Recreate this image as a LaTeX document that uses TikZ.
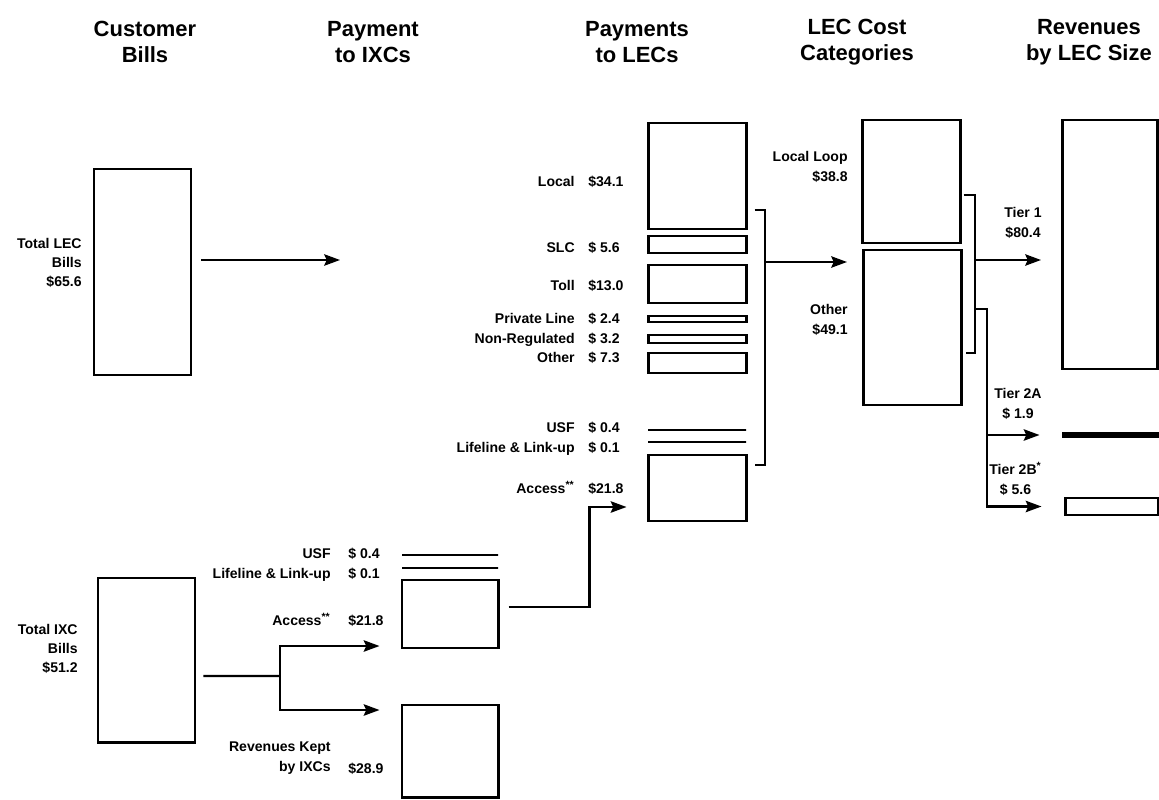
\documentclass[tikz,border=0pt]{standalone}
\usepackage{fontspec}
\setmainfont{Liberation Sans}
\usetikzlibrary{arrows.meta,positioning,calc}
\tikzset{
  box/.style={draw, line width=1.7pt, minimum width=1.94cm, inner sep=0pt},
  bar/.style={draw, line width=1.6pt, minimum width=1.94cm, minimum height=0pt, inner sep=0pt},
  arr/.style={-{Stealth[length=9pt,width=6.5pt,inset=1.5pt]}, line width=1.3pt},
  link/.style={line width=1.4pt},
  lab/.style={font=\fontsize{8}{11}\selectfont\bfseries, inner sep=0pt},
  amt/.style={lab, anchor=base west},
  head/.style={font=\fontsize{12.5}{14.5}\selectfont\bfseries, align=center},
}

\begin{document}
\begin{tikzpicture}
  \useasboundingbox (0,0) rectangle (23.18,15.98);
  % column heads
  \node[head] (hbills) at (2.9,15.14) {Customer\\Bills};
  \node[head] (hixc) at (7.46,15.14) {Payment\\to IXCs};
  \node[head] (hlec) at (12.74,15.14) {Payments\\to LECs};
  \node[head] (hcost) at (17.14,15.14) {LEC Cost\\Categories};
  \node[head, anchor=east] (hsize) at (23.16,15.14) {Revenues\\by LEC Size};

  % customer bills
  \node[box, minimum height=4.12cm] (lecbill) at (2.85,10.54) {};
  \node[box, minimum height=3.28cm] (ixcbill) at (2.93,2.78) {};
  \node[lab, align=right, anchor=east] (leclab) at (1.64,10.72) {Total LEC\\Bills\\\$65.6};
  \node[lab, align=right, anchor=east] (ixclab) at (1.56,3.0) {Total IXC\\Bills\\\$51.2};

  % payment to IXCs
  \node[bar, minimum width=1.92cm] (iusf) at (9.0,4.88) {};
  \node[bar, minimum width=1.92cm] (ilife) at (9.0,4.62) {};
  \node[box, minimum width=1.92cm, minimum height=1.36cm] (iacc) at (9.0,3.70) {};
  \node[box, minimum width=1.92cm, minimum height=1.84cm] (ikept) at (9.0,0.96) {};
  \node[amt] (aiusf) at (6.96,4.82) {\$ 0.4};
  \node[lab, base left=0.34cm of aiusf] (tiusf) {USF};
  \node[amt] (ailife) at (6.96,4.42) {\$ 0.1};
  \node[lab, base left=0.34cm of ailife] (tilife) {Lifeline \& Link-up};
  \node[amt] (aiacc) at (6.96,3.48) {\$21.8};
  \node[lab, base left=0.34cm of aiacc] (tiacc) {Access\textsuperscript{**}};
  \node[amt] (aikept) at (6.96,0.52) {\$28.9};
  \node[lab, align=right, anchor=east] (tikept) at (6.62,0.82) {Revenues Kept\\by IXCs};

  % payments to LECs
  \node[box, minimum width=1.96cm, minimum height=2.12cm] (lloc) at (13.94,12.46) {};
  \node[box, minimum width=1.96cm, minimum height=0.34cm] (lslc) at (13.94,11.09) {};
  \node[box, minimum width=1.96cm, minimum height=0.76cm] (ltoll) at (13.94,10.30) {};
  \node[box, minimum width=1.96cm, minimum height=0.12cm] (lpriv) at (13.94,9.60) {};
  \node[box, minimum width=1.96cm, minimum height=0.16cm] (lnonreg) at (13.94,9.20) {};
  \node[box, minimum width=1.96cm, minimum height=0.40cm] (lother) at (13.94,8.72) {};
  \node[bar, minimum width=1.96cm] (lusf) at (13.94,7.38) {};
  \node[bar, minimum width=1.96cm] (llife) at (13.94,7.14) {};
  \node[box, minimum width=1.96cm, minimum height=1.32cm] (lacc) at (13.94,6.22) {};
  \node[amt] (aloc) at (11.76,12.24) {\$34.1};
  \node[lab, base left=0.26cm of aloc] (tloc) {Local};
  \node[amt] (aslc) at (11.76,10.94) {\$ 5.6};
  \node[lab, base left=0.26cm of aslc] (tslc) {SLC};
  \node[amt] (atoll) at (11.76,10.18) {\$13.0};
  \node[lab, base left=0.26cm of atoll] (ttoll) {Toll};
  \node[amt] (apriv) at (11.76,9.52) {\$ 2.4};
  \node[lab, base left=0.26cm of apriv] (tpriv) {Private Line};
  \node[amt] (anonreg) at (11.76,9.12) {\$ 3.2};
  \node[lab, base left=0.26cm of anonreg] (tnonreg) {Non-Regulated};
  \node[amt] (aother) at (11.76,8.74) {\$ 7.3};
  \node[lab, base left=0.26cm of aother] (tother) {Other};
  \node[amt] (alusf) at (11.76,7.34) {\$ 0.4};
  \node[lab, base left=0.26cm of alusf] (tlusf) {USF};
  \node[amt] (allife) at (11.76,6.94) {\$ 0.1};
  \node[lab, base left=0.26cm of allife] (tllife) {Lifeline \& Link-up};
  \node[amt] (alacc) at (11.76,6.12) {\$21.8};
  \node[lab, base left=0.26cm of alacc] (tlacc) {Access\textsuperscript{**}};

  % LEC cost categories
  \node[box, minimum width=1.96cm, minimum height=2.46cm] (cloop) at (18.22,12.35) {};
  \node[box, minimum width=1.96cm, minimum height=3.10cm] (cother) at (18.24,9.43) {};
  \node[lab, align=right, anchor=east] (tcloop) at (16.96,12.64) {Local Loop\\\$38.8};
  \node[lab, align=right, anchor=east] (tcother) at (16.96,9.58) {Other\\\$49.1};

  % revenues by size
  \node[box, minimum width=1.90cm, minimum height=4.98cm] (tone) at (22.19,11.09) {};
  \node[box, fill=black, minimum width=1.92cm, minimum height=0.06cm] (ttwoa) at (22.22,7.28) {};
  \node[box, minimum width=1.86cm, minimum height=0.34cm] (ttwob) at (22.23,5.85) {};
  \node[lab, align=center, anchor=east] (ltone) at (20.84,11.52) {Tier 1\\\$80.4};
  \node[lab, align=center, anchor=east] (lttwoa) at (20.84,7.90) {Tier 2A\\\$ 1.9};
  \node[lab, align=center, anchor=east] (lttwob) at (20.84,6.40) {Tier 2B\textsuperscript{*}\\\$ 5.6};

  % connectors
  \coordinate (lecout) at (6.8,10.78);
  \draw[arr] ([xshift=0.18cm,yshift=0.24cm]lecbill.east) -- (lecout);
  \coordinate (isplit) at (5.6,2.46);
  \draw[link] ([xshift=0.14cm,yshift=-0.32cm]ixcbill.east) -- (isplit);
  \draw[arr] (isplit) |- ([xshift=-0.42cm,yshift=-0.64cm]iacc.west);
  \draw[arr] (isplit) |- ([xshift=-0.42cm,yshift=0.82cm]ikept.west);
  \draw[arr] ([xshift=0.18cm,yshift=0.14cm]iacc.east) -- ++(1.62,0) |- ([xshift=-0.4cm,yshift=-0.38cm]lacc.west);

  \coordinate (lecjoin) at (15.30,10.74);
  \coordinate (costin) at (16.94,10.74);
  \draw[link] ([xshift=0.14cm,yshift=-0.68cm]lloc.east) -| (lecjoin) |- ([xshift=0.14cm,yshift=0.46cm]lacc.east);
  \draw[arr] (lecjoin) -- (costin);

  \coordinate (costjoin) at (19.50,10.78);
  \coordinate (tierin) at (20.82,10.78);
  \coordinate (tiersplit) at (19.74,9.80);
  \draw[link] ([xshift=0.04cm,yshift=-0.27cm]cloop.east) -| (costjoin) |- ([xshift=0.06cm,yshift=-0.51cm]cother.east);
  \draw[arr] (costjoin) -- (tierin);
  \draw[arr] (costjoin |- tiersplit) -- (tiersplit) |- ([xshift=-0.44cm]ttwob.west);
  \draw[arr] (tiersplit |- ttwoa) -- ([xshift=-0.44cm]ttwoa.west);
\end{tikzpicture}
\end{document}
